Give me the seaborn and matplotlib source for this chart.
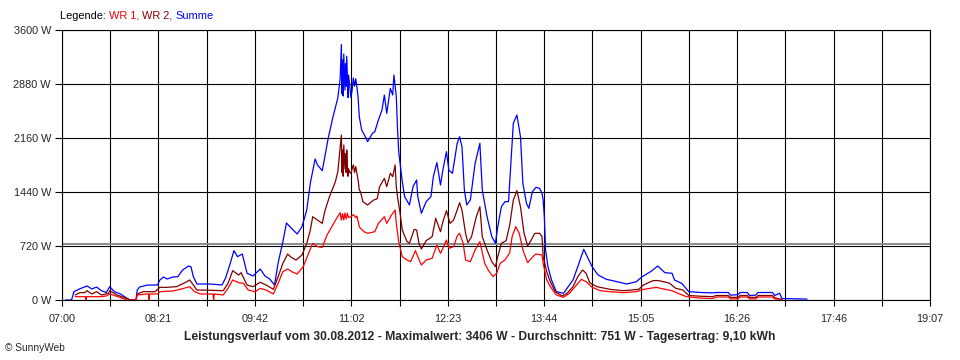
import matplotlib
matplotlib.use("Agg")
import matplotlib.pyplot as plt
import seaborn as sns
import numpy as np
import pandas as pd

# minutes after 07:00 and power in W
summe_min = [3, 8, 10, 15, 21, 25, 29, 33, 37, 40, 44, 49, 54, 57, 62, 63, 65, 72, 80, 82,
             85, 88, 93, 97, 101, 106, 108, 110, 113, 124, 134, 137, 141, 144, 147, 151, 155, 160, 166, 170,
             174, 178, 181, 185, 188, 192, 197, 201, 205, 208, 212, 214, 218, 223, 227, 231, 233, 234, 234.5, 235,
             235.5, 236, 237, 237.5, 238, 238.5, 239, 239.5, 240, 241, 242, 243, 244, 245, 246, 247, 248, 249, 251, 254,
             256, 260, 262, 265, 268, 270, 272, 275, 277, 278, 280, 281, 282, 285, 287, 291, 294, 297, 298, 301,
             305, 309, 311, 314, 317, 319, 322, 324, 327, 331, 333, 335, 337, 339, 342, 346, 350, 352, 356, 360,
             363, 365, 368, 371, 374, 375, 378, 381, 384, 386, 389, 391, 394, 397, 400, 402, 403, 404, 405, 407,
             410, 414, 420, 424, 428, 432, 437, 440, 444, 449, 456, 465, 473, 481, 486, 493, 499, 505, 511, 513,
             519, 525, 535, 545, 548, 558, 560, 566, 568, 574, 576, 581, 583, 595, 597, 601, 603, 624]
summe_w = [0, 0, 110, 150, 187, 147, 173, 124, 100, 177, 110, 80, 27, 0, 0, 133, 173, 200, 200, 267,
           307, 280, 307, 311, 400, 453, 444, 311, 213, 213, 200, 293, 493, 658, 578, 613, 356, 320, 413, 320,
           280, 200, 493, 778, 1027, 960, 880, 978, 1200, 1560, 1880, 1800, 1724, 2160, 2444, 2693, 2960, 3406, 2750, 3200,
           2720, 3280, 2800, 3150, 2850, 3250, 2950, 2700, 3000, 2850, 2700, 2800, 2960, 2850, 2950, 2844, 2700, 2444, 2267, 2178,
           2111, 2222, 2244, 2400, 2533, 2733, 2489, 2822, 2733, 3000, 2711, 2289, 1978, 1578, 1378, 1267, 1511, 1600, 1378, 1156,
           1311, 1378, 1644, 1831, 1533, 1733, 1978, 1733, 1689, 2089, 2178, 2044, 1467, 1267, 1333, 1822, 2089, 1467, 1111, 844,
           756, 978, 1244, 1311, 1311, 1578, 2356, 2467, 2178, 1556, 1289, 1222, 1444, 1502, 1489, 1422, 1333, 1111, 667, 444,
           267, 111, 89, 178, 267, 444, 676, 578, 444, 333, 276, 244, 213, 244, 311, 378, 453, 364, 356, 267,
           222, 111, 100, 95, 100, 100, 65, 70, 100, 100, 60, 65, 100, 100, 60, 90, 20, 12]

wr2_min = [11, 15, 19, 21, 25, 29, 33, 39, 40, 46, 54, 57, 62, 63, 68, 78, 82, 88, 96, 103,
           107, 110, 113, 124, 135, 139, 143, 148, 150, 155, 160, 166, 171, 177, 181, 185, 189, 192, 196, 201,
           205, 208, 210, 213, 218, 220, 224, 229, 231, 234, 234.5, 235, 235.5, 236, 237, 237.5, 238, 238.5, 239, 239.5,
           240, 241, 242, 243, 244, 245, 246, 247, 248, 249, 250, 252, 256, 261, 264, 266, 270, 272, 275, 277,
           279, 280, 281, 283, 285, 289, 291, 295, 297, 299, 301, 305, 310, 313, 317, 319, 322, 325, 328, 331,
           333, 335, 338, 340, 343, 347, 350, 352, 356, 360, 363, 365, 368, 372, 375, 378, 381, 384, 387, 390,
           393, 396, 400, 402, 403, 406, 409, 413, 419, 423, 428, 432, 436, 439, 442, 448, 459, 470, 483, 487,
           495, 499, 505, 509, 514, 520, 525, 535, 545, 548, 558, 560, 566, 568, 574, 576, 581, 583, 595, 597,
           603]
wr2_w = [67, 98, 98, 124, 80, 111, 67, 89, 124, 67, 22, 0, 0, 80, 111, 111, 169, 169, 178, 231,
         267, 200, 133, 130, 124, 222, 391, 333, 364, 200, 178, 236, 200, 142, 311, 489, 613, 569, 533, 600,
         756, 933, 1111, 1076, 1022, 1178, 1378, 1578, 1711, 2200, 1700, 2000, 1650, 2067, 1750, 1950, 1700, 2000, 1800, 1650,
         1750, 1700, 1689, 1750, 1800, 1700, 1780, 1689, 1600, 1467, 1444, 1311, 1267, 1333, 1350, 1511, 1622, 1511, 1689, 1644,
         1800, 1511, 1378, 1178, 933, 778, 756, 942, 933, 756, 680, 791, 844, 1089, 911, 1044, 1191, 1022, 1067, 1200,
         1298, 1200, 889, 764, 844, 1111, 1244, 844, 667, 511, 444, 578, 756, 791, 1000, 1333, 1458, 1244, 889, 720,
         800, 889, 889, 849, 578, 378, 244, 111, 53, 89, 178, 311, 400, 356, 231, 178, 142, 124, 142, 200,
         258, 260, 240, 222, 156, 133, 60, 50, 45, 60, 60, 35, 35, 60, 60, 35, 35, 60, 60, 30,
         5]

wr1_min = [11, 15, 19.5, 20, 20.5, 32, 37, 40, 47, 54, 62, 63, 71, 72.5, 73, 73.5, 80, 82, 93, 102,
           107, 111, 116, 124, 126.5, 127, 127.5, 135, 139, 143, 148, 152, 156, 162, 166, 171, 177, 181, 185, 189,
           193, 197, 202, 206, 210, 214, 218, 222, 226, 230, 233, 234, 235, 236, 237, 238, 239, 240, 242, 244,
           246, 247, 249, 250, 253, 256, 262, 265, 270, 272, 276, 279, 280, 282, 285, 289, 292, 296, 298, 301,
           305, 310, 314, 317, 319, 322, 324, 328, 331, 333, 336, 338, 342, 346, 350, 354, 357, 361, 364, 367,
           371, 375, 377, 380, 383, 386, 390, 395, 397, 402, 403, 406, 409, 414, 420, 425, 431, 435, 439, 444,
           451, 459, 470, 481, 487, 498, 501, 511, 516, 523, 535, 545, 548, 558, 560, 566, 568, 574, 576, 581,
           583, 595, 597, 603]
wr1_w = [44, 44, 44, 0, 44, 44, 53, 80, 44, 0, 0, 67, 80, 80, 0, 80, 80, 111, 120, 156,
         178, 111, 80, 80, 80, 0, 80, 67, 156, 267, 231, 222, 133, 111, 156, 133, 80, 222, 378, 413,
         373, 347, 444, 600, 756, 711, 702, 867, 978, 1089, 1164, 1067, 1150, 1067, 1160, 1080, 1156, 1100, 1111, 1138,
         1100, 1120, 978, 956, 911, 889, 911, 1022, 1111, 1022, 1133, 1200, 1022, 778, 578, 533, 511, 658, 578, 467,
         533, 556, 733, 622, 689, 800, 689, 711, 853, 889, 756, 533, 511, 667, 778, 489, 400, 311, 356, 489,
         533, 631, 844, 978, 889, 667, 498, 587, 613, 600, 489, 267, 178, 67, 36, 89, 200, 276, 244, 169,
         124, 111, 98, 111, 142, 169, 156, 124, 89, 44, 25, 20, 40, 40, 15, 15, 40, 40, 15, 15,
         40, 40, 15, 5]

x_labels = ["07:00", "08:21", "09:42", "11:02", "12:23", "13:44", "15:05", "16:26", "17:46", "19:07"]
span_min = 727
y_ticks = [0, 720, 1440, 2160, 2880, 3600]
average_w = 751
title = "Leistungsverlauf vom 30.08.2012 - Maximalwert: 3406 W - Durchschnitt: 751 W - Tagesertrag: 9,10 kWh"

sns.set_style("white")
plt.rcParams['font.family'] = ['Liberation Sans', 'DejaVu Sans']

fig = plt.figure(figsize=(9.6, 3.6), dpi=100)
ax = fig.add_axes([62/960, 60/360, 868/960, 270/360])

major = np.linspace(0, span_min, len(x_labels))
minor = (major[:-1] + major[1:]) / 2
ax.set_xlim(0, span_min)
ax.set_ylim(0, 3600)
ax.set_xticks(major)
ax.set_xticklabels(x_labels)
ax.set_xticks(minor, minor=True)
ax.set_yticks(y_ticks)
ax.set_yticklabels([f"{v} W" for v in y_ticks])
ax.grid(True, which="both", axis="x", color="black", lw=0.8)
ax.grid(True, which="major", axis="y", color="black", lw=0.8)
ax.set_axisbelow(True)
for s in ax.spines.values():
    s.set_color("black")
    s.set_linewidth(0.8)
ax.tick_params(axis="x", which="both", direction="out", length=4, width=0.8, color="black",
               pad=6, labelsize=7.8, bottom=True)
ax.tick_params(axis="y", direction="out", length=5, width=0.8, color="black",
               pad=3, labelsize=7.8, left=True)

ax.axhline(average_w, color="#8a8a8a", lw=1.4, zorder=1.5)

sns.lineplot(x=summe_min, y=summe_w, color="#0000ff", lw=0.9, estimator=None, ax=ax, zorder=3)
sns.lineplot(x=wr2_min, y=wr2_w, color="#800000", lw=0.9, estimator=None, ax=ax, zorder=4)
sns.lineplot(x=wr1_min, y=wr1_w, color="#ff0000", lw=0.9, estimator=None, ax=ax, zorder=5)
ax.set_xlabel("")
ax.set_ylabel("")

# legend line at the top, coloured pieces
renderer = fig.canvas.get_renderer()
xpos = 60 / 960
for txt, col in [("Legende: ", "black"), ("WR 1, ", "#ff0000"), ("WR 2, ", "#800000"), ("Summe", "#0000ff")]:
    t = fig.text(xpos, 1 - 16/360, txt, color=col, fontsize=7.9, va="center", ha="left")
    bb = t.get_window_extent(renderer=renderer)
    xpos += bb.width / 960

fig.text(0.5, 1 - 337/360, title, ha="center", va="center", fontsize=8.7, weight="bold")
fig.text(5/960, 1 - 348/360, "© SunnyWeb", ha="left", va="center", fontsize=7.3)

fig.savefig("out.png", dpi=100)
plt.close()
